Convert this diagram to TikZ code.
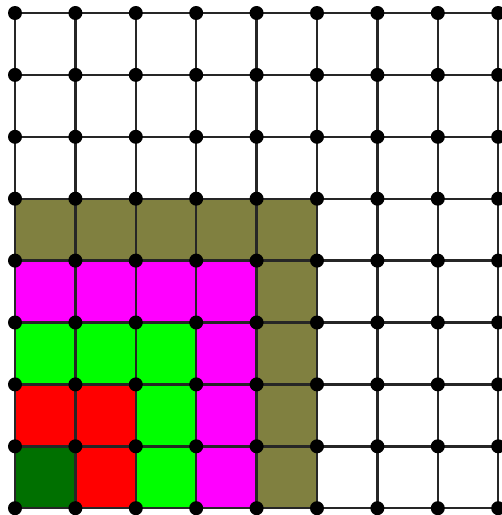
\documentclass[tikz,border=0pt]{standalone}
\definecolor{olivecell}{RGB}{128,128,64}
\definecolor{magcell}{RGB}{255,0,255}
\definecolor{greencell}{RGB}{0,255,0}
\definecolor{redcell}{RGB}{255,0,0}
\definecolor{darkcell}{RGB}{0,112,0}
\begin{document}
\begin{tikzpicture}[x=1pt,y=-1pt,
  gridline/.style={draw=black!85,line width=2.4pt},
  vdot/.style={circle,fill=black,inner sep=0pt,minimum size=14pt},
  cell/.style={rounded corners=6pt}]
\useasboundingbox (0,0) rectangle (502,515);
\fill[white] (0,0) rectangle (502,515);
\foreach \i in {0,...,8}{
  \foreach \j in {0,...,8}{
    \coordinate (p-\i-\j) at ({15+60.4*\i},{13+61.9*\j});
  }
}
% coloured cells: column/row/colour
\foreach \c/\r/\col in {0/3/olivecell,1/3/olivecell,2/3/olivecell,3/3/olivecell,4/3/olivecell,
  0/4/magcell,1/4/magcell,2/4/magcell,3/4/magcell,4/4/olivecell,
  0/5/greencell,1/5/greencell,2/5/greencell,3/5/magcell,4/5/olivecell,
  0/6/redcell,1/6/redcell,2/6/greencell,3/6/magcell,4/6/olivecell,
  0/7/darkcell,1/7/redcell,2/7/greencell,3/7/magcell,4/7/olivecell}{
  \pgfmathtruncatemacro{\cn}{\c+1}
  \pgfmathtruncatemacro{\rn}{\r+1}
  \fill[cell,\col] (p-\c-\r) rectangle (p-\cn-\rn);
}
% grid lines
\foreach \i in {0,...,8}{
  \draw[gridline] (p-\i-0) -- (p-\i-8);
  \draw[gridline] (p-0-\i) -- (p-8-\i);
}
% vertex dots
\foreach \i in {0,...,8}{
  \foreach \j in {0,...,8}{
    \node[vdot] (v-\i-\j) at (p-\i-\j) {};
  }
}
\end{tikzpicture}
\end{document}
